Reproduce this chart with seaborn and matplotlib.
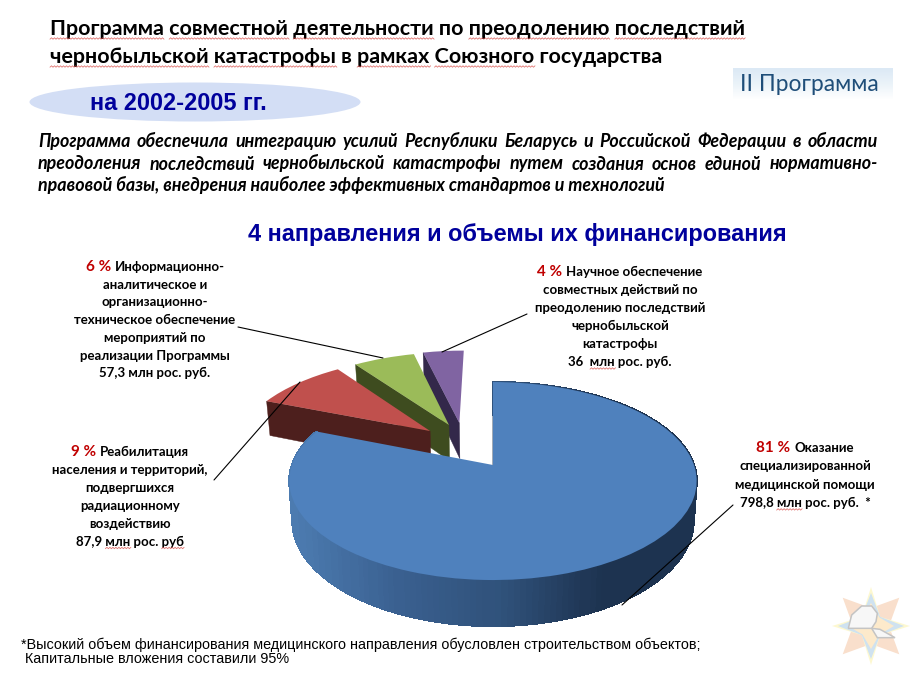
import numpy as np
import matplotlib
matplotlib.use("Agg")
import matplotlib.pyplot as plt
import matplotlib.transforms as mtransforms
from matplotlib.patches import Ellipse
import seaborn as sns

# ---------- data ----------
shares = [81, 9, 6, 4]
top_colors = ["#4f81bd", "#c0504d", "#9bbb59", "#8064a2"]
wall_colors = ["#1f3552", "#4d1f1d", "#3e4c1f", "#33284a"]
slice_offsets = [(0, 0), (-0.332, 0.374), (-0.235, 0.445), (-0.18, 0.469)]

title_lines = ["Программа совместной деятельности по преодолению последствий",
               "чернобыльской катастрофы в рамках Союзного государства"]
period = "на 2002-2005 гг."
badge = "II Программа"
para_lines = ["Программа обеспечила интеграцию усилий Республики Беларусь и Российской Федерации в области",
              "преодоления последствий чернобыльской катастрофы путем создания основ единой нормативно-",
              "правовой базы, внедрения наиболее эффективных стандартов и технологий"]
heading = "4 направления и объемы их финансирования"
foot_lines = ["*Высокий объем финансирования медицинского направления обусловлен строительством объектов;",
              " Капитальные вложения составили 95%"]
label_pct = ["81 %", "9 %", "6 %", "4 %"]
label_lines = [
    ["Оказание", "специализированной", "медицинской помощи", "798,8 млн рос. руб.  *"],
    ["Реабилитация", "населения и территорий,", "подвергшихся", "радиационному", "воздействию", "87,9 млн рос. руб"],
    ["Информационно-", "аналитическое и", "организационно-", "техническое обеспечение", "мероприятий по",
     "реализации Программы", "57,3 млн рос. руб."],
    ["Научное обеспечение", "совместных действий по", "преодолению последствий", "чернобыльской", "катастрофы",
     "36  млн рос. руб."],
]
label_center = [805, 130, 155, 620]
label_base = [452, 456, 271, 276]
label_step = [18.3, 17.9, 17.7, 18]
leaders = [((733, 505), (622, 605)), ((214, 480), (300, 382)), ((238, 327), (383, 358)), ((527, 314), (442, 352))]

# ---------- style ----------
sns.set_theme(style="white")
BODY = ["Lato", "Noto Sans"]
ARIAL = "Liberation Sans"
plt.rcParams["font.family"] = BODY

fig = plt.figure(figsize=(9.11, 6.89), dpi=100)
ax = fig.add_axes([0, 0, 1, 1])
renderer = fig.canvas.get_renderer()

# ---------- perspective pie ----------
CX, CY, S, SQ, K, D = 493.0, 465.0, 201.0, 96.4, 0.162, 38.5


def project(u, v, z=0.0):
    d = 1 + K * np.asarray(v, float)
    x = CX + S * np.asarray(u, float) / d * (1 - 0.015 * z)
    y = CY - SQ * np.asarray(v, float) / d + D * z / d
    return x, y


class PieProjection(mtransforms.Transform):
    input_dims = 2
    output_dims = 2
    is_separable = False
    has_inverse = False

    def transform_non_affine(self, values):
        x, y = project(values[:, 0], values[:, 1])
        return np.column_stack([x, y])


wedges, _ = ax.pie(shares, colors=sns.color_palette(top_colors), startangle=90, counterclock=False,
                   frame=True, wedgeprops=dict(linewidth=0))
ax.set_xlim(0, 911)
ax.set_ylim(689, 0)
ax.axis("off")

edges = np.concatenate([[0], np.cumsum(shares)]) / sum(shares) * 360.0
blue_grad = sns.blend_palette(["#4c7bb0", "#3a6090", "#30527b", "#1d3350", "#1d3350"], 64)
projection = PieProjection() + ax.transData
draw_order = [3, 2, 1, 0]
for rank, i in enumerate(draw_order):
    base = 2 + rank * 3
    ou, ov = slice_offsets[i]
    a0, a1 = np.radians(edges[i]), np.radians(edges[i + 1])
    # radial side face toward the viewer
    us = np.array([ou, ou + np.sin(a0)])
    vs = np.array([ov, ov + np.cos(a0)])
    xt, yt = project(us, vs, 0)
    xb, yb = project(us, vs, 1)
    ax.fill([xt[0], xt[1], xb[1], xb[0]], [yt[0], yt[1], yb[1], yb[0]],
            color=wall_colors[i], lw=0.3, zorder=base)
    # outer wall of the big slice
    th = np.linspace(a0, a1, max(4, int(np.degrees(a1 - a0) / 1.5)))
    if i == 0:
        for t0, t1 in zip(th[:-1], th[1:]):
            us = ou + np.sin([t0, t1])
            vs = ov + np.cos([t0, t1])
            xt, yt = project(us, vs, 0)
            xb, yb = project(us, vs, 1)
            f = np.clip((xt.mean() - 290) / 408, 0, 1)
            col = blue_grad[int(f * 63)]
            ax.fill([xt[0], xt[1], xb[1], xb[0]], [yt[0], yt[1], yb[1], yb[0]], color=col, lw=0.9,
                    antialiased=False, zorder=base + 1)
    w = wedges[i]
    w.set_center((ou, ov))
    w.set_transform(projection)
    w.set_zorder(base + 2)


# ---------- text helpers ----------
def width(s, **kw):
    t = ax.text(0, 0, s, **kw)
    b = t.get_window_extent(renderer).width
    t.remove()
    return b


def squiggle(x0, x1, y):
    xs = np.arange(x0, x1 + 1.5, 1.5)
    ys = y + 0.7 * (-1.0) ** np.arange(len(xs))
    ax.plot(xs, ys, color="#d9534f", lw=0.6, zorder=30, alpha=0.8)


def mark_words(x0, y, line, marked, dy, **kw):
    for word in marked:
        i = line.index(word)
        a = width(line[:i].replace(" ", "\u00a0"), **kw) if i else 0
        b = width(line[:i + len(word)].replace(" ", "\u00a0"), **kw)
        squiggle(x0 + a, x0 + b, y + dy)


def justified(line, x0, x1, y, **kw):
    words = line.split(" ")
    ws = [width(w, **kw) for w in words]
    gap = (x1 - x0 - sum(ws)) / (len(words) - 1)
    x = x0
    for w, wd in zip(words, ws):
        ax.text(x, y, w, ha="left", va="baseline", **kw)
        x += wd + gap


# ---------- headers ----------
tk = dict(fontsize=15.45, fontweight="bold", color="black")
title_base = [35, 63]
for line, y, marks in zip(title_lines, title_base,
                          [["Программа", "совместной", "деятельности", "преодолению", "последствий"],
                           ["чернобыльской", "катастрофы", "рамках", "Союзного"]]):
    ax.text(50, y, line, ha="left", va="baseline", **tk)
    mark_words(50, y, line, marks, 3.5, **tk)

ax.add_patch(Ellipse((195, 102), 331, 39, facecolor="#d3def5", edgecolor="none", zorder=1))
ax.text(178, 110, period, ha="center", va="baseline", fontsize=16.9, fontweight="bold",
        color="#00009c", family=ARIAL, zorder=3)

grad = np.linspace(0, 1, 32).reshape(-1, 1)
ax.imshow(grad, extent=(733, 893, 100, 68), cmap=sns.blend_palette(["#dce9f5", "#ebf3f9", "#ffffff"], as_cmap=True),
          aspect="auto", zorder=1)
ax.set_xlim(0, 911)
ax.set_ylim(689, 0)
ax.text(740, 91, badge, ha="left", va="baseline", fontsize=16.4, color="#1f4e79", zorder=3)

pk = dict(fontsize=12.9, fontweight="bold", fontstyle="italic", color="black")
for line, y in zip(para_lines[:2], [147, 169.5]):
    justified(line, 38, 878, y, **pk)
ax.text(38, 191, para_lines[2], ha="left", va="baseline", **pk)

ax.text(248, 241, heading, ha="left", va="baseline", fontsize=16.9, fontweight="bold", color="#00009c", family=ARIAL)

# ---------- labels ----------
lk = dict(fontsize=9.5, fontweight="bold", color="black")
pctk = dict(fontsize=11, fontweight="bold", color="#c00000")
for i in range(4):
    lines = label_lines[i]
    first = lines[0]
    wp = width(label_pct[i] + "\u00a0", **pctk)
    wl = width(first, **lk)
    x = label_center[i] - (wp + wl) / 2
    y = label_base[i]
    ax.text(x, y, label_pct[i], ha="left", va="baseline", zorder=25, **pctk)
    ax.text(x + wp, y, first, ha="left", va="baseline", zorder=25, **lk)
    for j, line in enumerate(lines[1:], start=1):
        yy = y + j * label_step[i]
        ax.text(label_center[i], yy, line, ha="center", va="baseline", zorder=25, **lk)
        if "млн" in line and i != 2:
            x0 = label_center[i] - width(line.replace(" ", "\u00a0"), **lk) / 2
            mark_words(x0, yy, line, ["млн"] + (["руб"] if i == 1 else []), 2.5, **lk)
    (xa, ya), (xb, yb) = leaders[i]
    ax.plot([xa, xb], [ya, yb], color="black", lw=0.8, zorder=20)

# ---------- footnote ----------
fk = dict(fontsize=10.4, color="black", family=ARIAL)
ax.text(21, 649, foot_lines[0], ha="left", va="baseline", **fk)
ax.text(21, 663, foot_lines[1], ha="left", va="baseline", **fk)

# ---------- emblem ----------
ec = (871, 626)
ang = np.radians(np.arange(0, 360, 45))
rad = np.array([18, 40] * 4)
ax.fill(ec[0] + rad * np.sin(ang), ec[1] - rad * np.cos(ang), color="#f9dfcc", lw=0, zorder=2)
for (rl, rs, col) in [(39, 13, "#fdf8d0"), (33, 13, "#cfe2f0"), (23, 12, "#fdeacb")]:
    rad = np.array([rl, rs] * 4)
    ax.fill(ec[0] + rad * np.sin(ang), ec[1] - rad * np.cos(ang), color=col, lw=0, zorder=3)
dome_x = np.array([145, 155, 185, 215, 232, 228, 215, 150])
dome_y = np.array([175, 135, 108, 108, 130, 155, 175, 175])
guard_x = np.array([215, 240, 285, 232])
guard_y = np.array([175, 178, 203, 203])
ax.fill(800 + dome_x / 3, 570 + dome_y / 3, facecolor="#f7f7f7", edgecolor="#c4c4c4", lw=1.1, zorder=4)
ax.fill(800 + guard_x / 3, 570 + guard_y / 3, facecolor="#f7f7f7", edgecolor="#c4c4c4", lw=1.1, zorder=4)

fig.savefig("out.png", dpi=100)
